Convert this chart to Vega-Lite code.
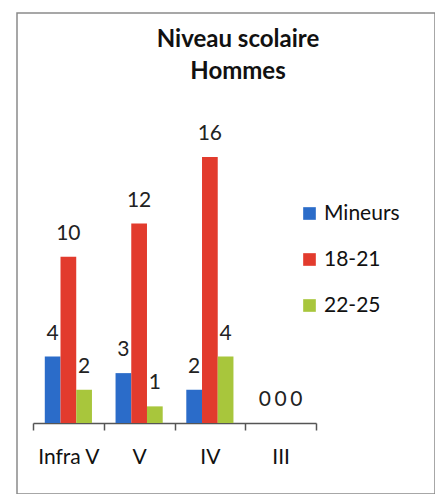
{
  "$schema": "https://vega.github.io/schema/vega-lite/v6.json",
  "width": 418,
  "height": 481,
  "autosize": {"type": "none"},
  "padding": {"left": 17, "top": 13, "right": 0, "bottom": 0},
  "background": "white",
  "config": {"view": {"stroke": "#8a8a8a", "strokeWidth": 1.5}, "font": "Lato"},
  "title": {
    "text": ["Niveau scolaire", "Hommes"],
    "anchor": "middle",
    "frame": "group",
    "font": "Lato",
    "fontSize": 24,
    "fontWeight": "bold",
    "color": "#111",
    "lineHeight": 32,
    "baseline": "top",
    "offset": 0,
    "dx": 12,
    "dy": 71
  },
  "data": {
    "values": [
      {"niveau": "Infra V", "groupe": "Mineurs", "valeur": 4},
      {"niveau": "Infra V", "groupe": "18-21", "valeur": 10},
      {"niveau": "Infra V", "groupe": "22-25", "valeur": 2},
      {"niveau": "V", "groupe": "Mineurs", "valeur": 3},
      {"niveau": "V", "groupe": "18-21", "valeur": 12},
      {"niveau": "V", "groupe": "22-25", "valeur": 1},
      {"niveau": "IV", "groupe": "Mineurs", "valeur": 2},
      {"niveau": "IV", "groupe": "18-21", "valeur": 16},
      {"niveau": "IV", "groupe": "22-25", "valeur": 4},
      {"niveau": "III", "groupe": "Mineurs", "valeur": 0},
      {"niveau": "III", "groupe": "18-21", "valeur": 0},
      {"niveau": "III", "groupe": "22-25", "valeur": 0}
    ]
  },
  "encoding": {
    "x": {
      "field": "niveau",
      "type": "nominal",
      "sort": ["Infra V", "V", "IV", "III"],
      "scale": {"range": [16, 299], "paddingInner": 0, "paddingOuter": 0},
      "axis": {
        "title": null,
        "labelAngle": 0,
        "offset": -71,
        "tickBand": "extent",
        "tickSize": 7,
        "domainColor": "#555",
        "tickColor": "#555",
        "domainWidth": 1.5,
        "tickWidth": 1.5,
        "labelFont": "Lato",
        "labelFontSize": 21,
        "labelColor": "#111",
        "labelPadding": 16
      }
    },
    "xOffset": {
      "field": "groupe",
      "type": "nominal",
      "sort": ["Mineurs", "18-21", "22-25"],
      "scale": {"paddingInner": 0, "paddingOuter": 0.75}
    },
    "y": {
      "field": "valeur",
      "type": "quantitative",
      "scale": {"domain": [0, 16], "range": [410, 144], "nice": false, "zero": true},
      "axis": null
    }
  },
  "layer": [
    {
      "mark": {"type": "bar"},
      "encoding": {
        "color": {
          "field": "groupe",
          "type": "nominal",
          "sort": ["Mineurs", "18-21", "22-25"],
          "scale": {"domain": ["Mineurs", "18-21", "22-25"], "range": ["#2b6cc9", "#e23b2d", "#a8c63c"]},
          "legend": {
            "title": null,
            "orient": "none",
            "legendX": 282,
            "legendY": 190,
            "symbolType": "square",
            "symbolSize": 160,
            "symbolStrokeWidth": 0,
            "labelFont": "Lato",
            "labelFontSize": 21,
            "labelColor": "#111",
            "labelOffset": 4,
            "rowPadding": 24
          }
        }
      }
    },
    {
      "mark": {"type": "text", "baseline": "bottom", "dy": -13, "fontSize": 21, "font": "Lato", "color": "#222"},
      "encoding": {"text": {"field": "valeur", "type": "quantitative"}}
    }
  ]
}
